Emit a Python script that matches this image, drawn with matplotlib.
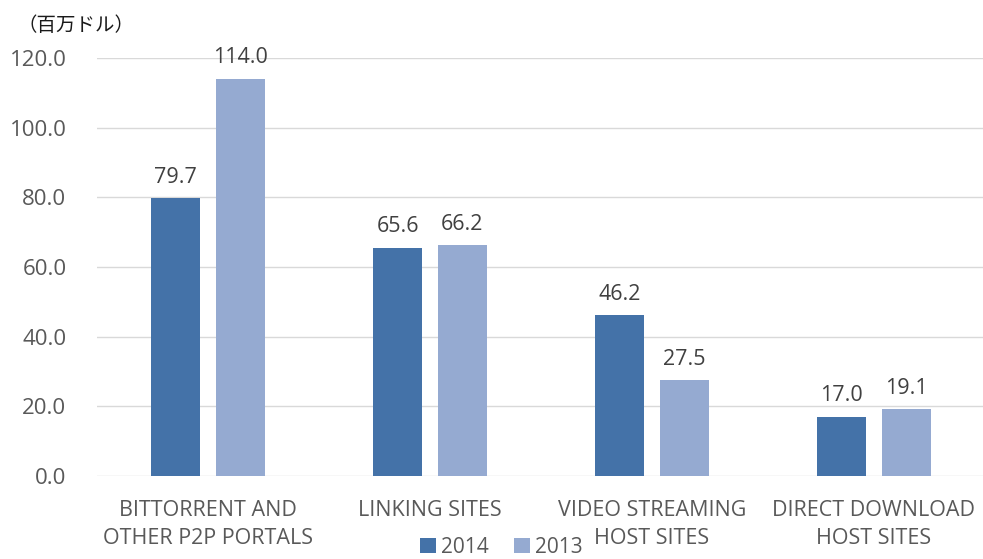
import matplotlib
matplotlib.use("Agg")
import matplotlib.pyplot as plt
import numpy as np

categories = [
    "BITTORRENT AND\nOTHER P2P PORTALS",
    "LINKING SITES",
    "VIDEO STREAMING\nHOST SITES",
    "DIRECT DOWNLOAD\nHOST SITES",
]
values_2014 = [79.7, 65.6, 46.2, 17.0]
values_2013 = [114.0, 66.2, 27.5, 19.1]
series_names = ["2014", "2013"]
yticks = [0, 20, 40, 60, 80, 100, 120]

COLOR_2014 = "#4472A8"
COLOR_2013 = "#95AAD1"
TEXT = "#595959"

plt.rcParams["font.family"] = ["Open Sans", "Noto Sans CJK JP", "DejaVu Sans"]

fig = plt.figure(figsize=(9.83, 5.59), dpi=100)
ax = fig.add_axes([0.0987, 0.1485, 0.9033, 0.7477])

x = np.arange(len(categories))
width = 0.22
offset = 0.146

bars1 = ax.bar(x - offset, values_2014, width, color=COLOR_2014, label=series_names[0], zorder=3)
bars2 = ax.bar(x + offset, values_2013, width, color=COLOR_2013, label=series_names[1], zorder=3)

for bars in (bars1, bars2):
    for b in bars:
        ax.text(b.get_x() + b.get_width() / 2, b.get_height() + 3, f"{b.get_height():.1f}",
                ha="center", va="bottom", fontsize=15.5, color="#404040")

ax.set_xlim(-0.5, 3.5)
ax.set_ylim(0, 120)
ax.set_yticks(yticks)
ax.set_yticklabels([f"{v:.1f}" for v in yticks], fontsize=16, color=TEXT)
ax.set_xticks(x)
ax.set_xticklabels(categories, fontsize=15.5, color=TEXT, linespacing=1.45)
ax.tick_params(axis="both", length=0)
ax.tick_params(axis="y", pad=22)
ax.tick_params(axis="x", pad=17)

ax.grid(axis="y", color="#D9D9D9", linewidth=1, zorder=0)
for s in ax.spines.values():
    s.set_visible(False)

fig.text(0.018, 0.955, "（百万ドル）", fontsize=14, color="#1a1a1a",
         family=["Noto Sans CJK JP", "DejaVu Sans"], va="center")

fig.legend(loc="center", bbox_to_anchor=(0.51, 0.021), ncol=2, frameon=False,
           fontsize=15, handlelength=0.75, handleheight=0.75, handletextpad=0.25,
           columnspacing=1.2, labelcolor=TEXT, borderpad=0)

fig.savefig("out.png", dpi=100)
